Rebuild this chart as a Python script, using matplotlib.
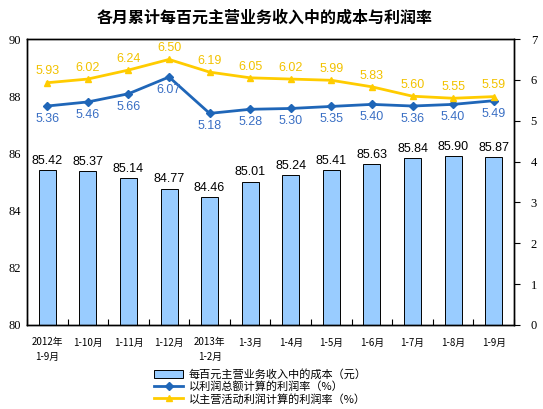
import matplotlib
matplotlib.use("Agg")
import matplotlib.pyplot as plt
import numpy as np

plt.rcParams['font.family'] = ['Noto Sans CJK SC', 'DejaVu Sans']

categories = ["2012年\n1-9月", "1-10月", "1-11月", "1-12月", "2013年\n1-2月", "1-3月",
              "1-4月", "1-5月", "1-6月", "1-7月", "1-8月", "1-9月"]
cost = [85.42, 85.37, 85.14, 84.77, 84.46, 85.01, 85.24, 85.41, 85.63, 85.84, 85.90, 85.87]
profit_total = [5.36, 5.46, 5.66, 6.07, 5.18, 5.28, 5.30, 5.35, 5.40, 5.36, 5.40, 5.49]
profit_main = [5.93, 6.02, 6.24, 6.50, 6.19, 6.05, 6.02, 5.99, 5.83, 5.60, 5.55, 5.59]

title = "各月累计每百元主营业务收入中的成本与利润率"
legend_labels = ["每百元主营业务收入中的成本（元）", "以利润总额计算的利润率（%）", "以主营活动利润计算的利润率（%）"]

bar_color = "#99CCFF"
blue = "#1F66B8"
yellow = "#FFCC00"

fig = plt.figure(figsize=(5.43, 4.09), dpi=100)
ax = fig.add_axes([0.0497, 0.2054, 0.8969, 0.6992])
ax2 = ax.twinx()

x = np.arange(len(categories))
bars = ax.bar(x, cost, width=0.42, color=bar_color, edgecolor="black", linewidth=0.7, zorder=2,
              label=legend_labels[0])
ax.set_ylim(80, 90)
ax.set_xlim(-0.5, len(categories) - 0.5)
ax.set_yticks(np.arange(80, 91, 2))
for xi, v in zip(x, cost):
    ax.text(xi, v + 0.12, f"{v:.2f}", ha="center", va="bottom", fontsize=9,
            family="Liberation Sans", color="black")

l1, = ax2.plot(x, profit_total, color=blue, linewidth=2, marker="D", markersize=4,
               label=legend_labels[1], zorder=3)
l2, = ax2.plot(x, profit_main, color=yellow, linewidth=2, marker="^", markersize=5,
               label=legend_labels[2], zorder=3)
ax2.set_ylim(0, 7)
ax2.set_yticks(range(0, 8))
for xi, v in zip(x, profit_total):
    ax2.text(xi, v - 0.17, f"{v:.2f}", ha="center", va="top", fontsize=9,
             family="Liberation Sans", color="#3A6FC4")
for xi, v in zip(x, profit_main):
    ax2.text(xi, v + 0.13, f"{v:.2f}", ha="center", va="bottom", fontsize=9,
             family="Liberation Sans", color="#F2C200")

ax.set_xticks(x)
ax.set_xticklabels(categories, fontsize=7, linespacing=1.5)
ax.set_xticks(np.arange(-0.5, len(categories)), minor=True)
ax.tick_params(axis="x", which="major", length=0, pad=9)
ax.tick_params(axis="x", which="minor", direction="in", length=4, width=0.8)
ax.tick_params(axis="y", direction="out", length=0, labelsize=9, pad=4)
ax2.tick_params(axis="y", direction="out", length=4, width=0.8, labelsize=9, pad=8)
for lab in ax.get_yticklabels() + ax2.get_yticklabels():
    lab.set_family("Liberation Serif")
for sp in ["top", "right", "left", "bottom"]:
    ax.spines[sp].set_linewidth(1.0)
    ax2.spines[sp].set_linewidth(1.0)

fig.text(0.487, 0.956, title, ha="center", va="center", fontsize=11.5, fontweight="bold")

fig.legend([bars, l1, l2], legend_labels, loc="upper center", bbox_to_anchor=(0.48, 0.112),
           frameon=False, fontsize=8, handlelength=2.6, handletextpad=0.5,
           labelspacing=0.15, borderpad=0)

fig.savefig("out.png", dpi=100)
